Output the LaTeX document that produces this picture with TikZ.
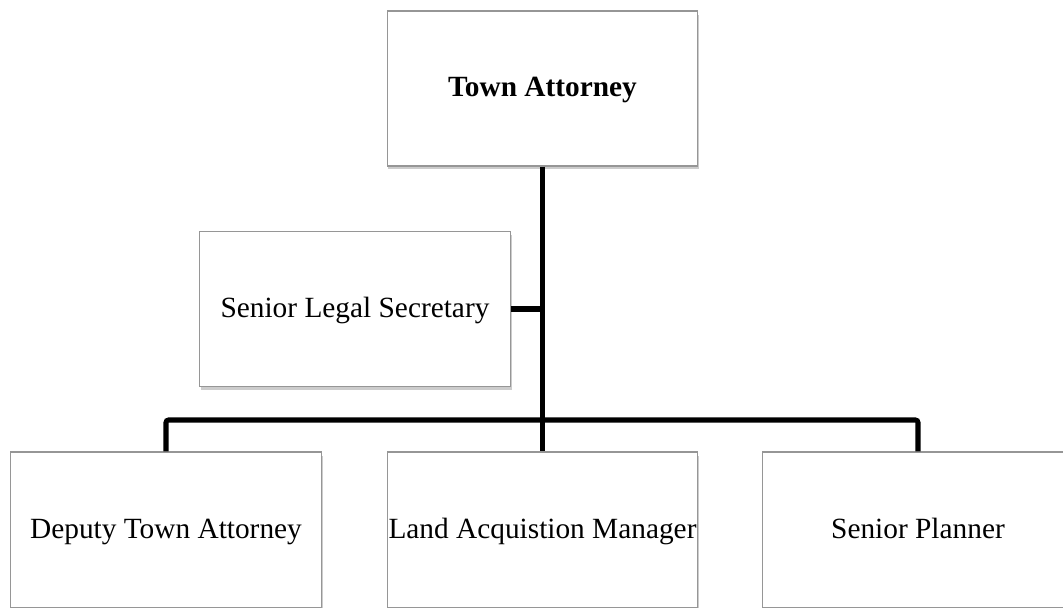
\documentclass[tikz,border=0pt]{standalone}
\usepackage{fontspec}
\setmainfont{Liberation Serif}
\usetikzlibrary{positioning,shadows,calc}
\definecolor{bordeGris}{RGB}{150,150,150}

\begin{document}
\begin{tikzpicture}[
      x=0.02cm, y=-0.02cm,
      post/.style = {rectangle, minimum width=6.22cm, minimum height=3.1cm,
          draw=bordeGris, fill=white, line width=0.6pt, align=center, inner sep=0pt,
          font=\fontsize{16.7}{20}\selectfont, text height=12pt, text depth=2.4pt,
          drop shadow={shadow xshift=0.8pt, shadow yshift=-2pt, opacity=0.4}},
      link/.style = {line width=2.9pt, color=black, rounded corners=1.5pt},
    ]
    \useasboundingbox (0,0) rectangle (1063,608);

    % ── Jefe del departamento ───────────────────────────────────
    \node[post, font=\fontsize{16.7}{20}\selectfont\bfseries] (ta) at (542.5,88.5) {Town Attorney};
    \node[post] (sec) at (355,309) {Senior Legal Secretary};

    % ── Puestos subordinados ────────────────────────────────────
    \node[post, minimum height=3.12cm] (dep)  at (166,530)   {Deputy Town Attorney};
    \node[post, minimum height=3.12cm] (land) at (542.5,530) {Land Acquistion Manager};
    \node[post, minimum height=3.12cm] (plan) at (918,530)   {Senior Planner};

    % ── Conexiones ──────────────────────────────────────────────
    \coordinate (bar) at (542.5,420);
    \draw[link] (ta.south) -- (bar);
    \draw[link] (sec.east) -- (sec.east -| ta.south);
    \draw[link] (dep.north) |- (bar) -| (plan.north);
    \draw[link] (bar) -- (land.north);

  \end{tikzpicture}
\end{document}
